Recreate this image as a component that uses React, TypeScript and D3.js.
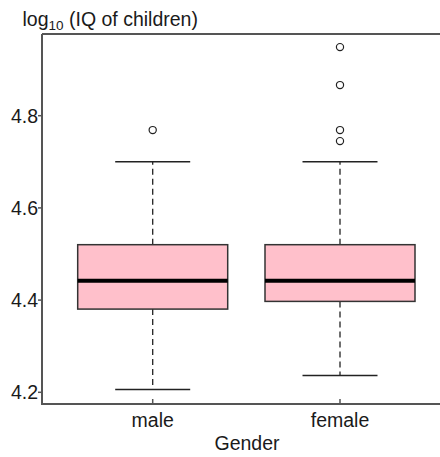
import React from "react";
import * as d3 from "d3";

const categories = ["male", "female"];
const q1 = [4.3805, 4.3972];
const medians = [4.4419, 4.4419];
const q3 = [4.5202, 4.5202];
const whiskerLow = [4.2063, 4.2367];
const whiskerHigh = [4.7, 4.7];
const outliers = [[4.7688], [4.9488, 4.8664, 4.7688, 4.7449]];
const yTicks = [4.2, 4.4, 4.6, 4.8];
const yTickLabels = ["4.2", "4.4", "4.6", "4.8"];

const W = 440;
const H = 457;
const left = 42;
const right = 440;
const top = 34;
const bottom = 404;
const FONT = "'Liberation Sans', Arial, sans-serif";

export default function App() {
  const y = d3.scaleLinear().domain([4.2, 4.8]).range([392.3, 115.7]);
  const x = d3.scalePoint<string>().domain(categories).range([152.7, 340]);
  const boxW = 150;
  const capW = 75;
  const axisColor = "#555";
  const textColor = "#1a1a1a";

  return (
    <svg width={W} height={H} style={{ position: "absolute", left: 0, top: 0 }}>
      <rect width={W} height={H} fill="#fff" />
      {/* frame */}
      <line x1={left} x2={right} y1={top} y2={top} stroke={axisColor} strokeWidth={2} />
      <line x1={left} x2={right} y1={bottom} y2={bottom} stroke={axisColor} strokeWidth={2} />
      <line x1={left} x2={left} y1={top} y2={bottom + 1} stroke={axisColor} strokeWidth={2} />

      {/* y ticks */}
      {yTicks.map((t, i) => (
        <g key={t}>
          <line x1={left - 4} x2={left} y1={y(t)} y2={y(t)} stroke={axisColor} strokeWidth={1.5} />
          <text x={38} y={y(t)} dy="0.36em" textAnchor="end" fontFamily={FONT} fontSize={19.5} fill={textColor}>
            {yTickLabels[i]}
          </text>
        </g>
      ))}

      {/* x ticks */}
      {categories.map((c) => (
        <g key={c}>
          <line x1={x(c)} x2={x(c)} y1={bottom} y2={bottom - 5} stroke={axisColor} strokeWidth={1.5} />
          <text x={x(c)} y={426.5} textAnchor="middle" fontFamily={FONT} fontSize={19.5} fill={textColor}>
            {c}
          </text>
        </g>
      ))}
      <text x={(left + right) / 2 + 6} y={450} textAnchor="middle" fontFamily={FONT} fontSize={19.5} fill={textColor}>
        Gender
      </text>

      {/* y label */}
      <text x={22.5} y={25.5} fontFamily={FONT} fontSize={19.5} fill={textColor}>
        log
        <tspan fontSize={13.5} dy={4}>10</tspan>
        <tspan dy={-4}> (IQ of children)</tspan>
      </text>

      {/* boxes */}
      {categories.map((c, i) => {
        const cx = x(c) as number;
        return (
          <g key={c}>
            <line x1={cx} x2={cx} y1={y(q3[i])} y2={y(whiskerHigh[i])} stroke="#222" strokeWidth={1.3} strokeDasharray="6,4" />
            <line x1={cx} x2={cx} y1={y(q1[i])} y2={y(whiskerLow[i])} stroke="#222" strokeWidth={1.3} strokeDasharray="6,4" />
            <line x1={cx - capW / 2} x2={cx + capW / 2} y1={y(whiskerHigh[i])} y2={y(whiskerHigh[i])} stroke="#222" strokeWidth={1.5} />
            <line x1={cx - capW / 2} x2={cx + capW / 2} y1={y(whiskerLow[i])} y2={y(whiskerLow[i])} stroke="#222" strokeWidth={1.5} />
            <rect
              x={cx - boxW / 2}
              y={y(q3[i])}
              width={boxW}
              height={y(q1[i]) - y(q3[i])}
              fill="#FFC0CB"
              stroke="#333"
              strokeWidth={1.5}
            />
            <line x1={cx - boxW / 2} x2={cx + boxW / 2} y1={y(medians[i])} y2={y(medians[i])} stroke="#000" strokeWidth={4} />
            {outliers[i].map((o, j) => (
              <circle key={j} cx={cx} cy={y(o)} r={3.6} fill="#fff" stroke="#222" strokeWidth={1.2} />
            ))}
          </g>
        );
      })}
    </svg>
  );
}
